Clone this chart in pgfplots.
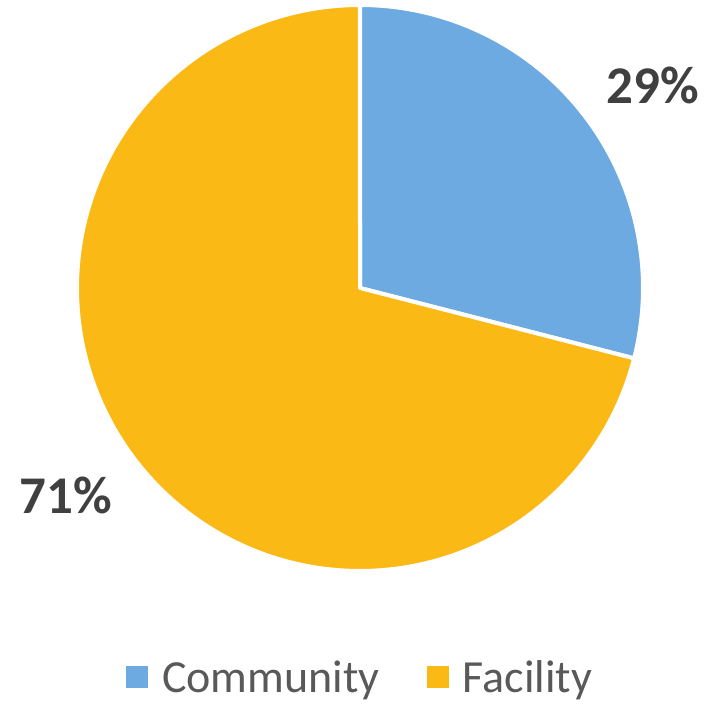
\documentclass[border=0pt]{standalone}
\usepackage{fontspec}
\setmainfont{Carlito}
\usepackage{pgfplots}
\pgfplotsset{compat=1.18}
\usepackage{pgfplotstable}
\definecolor{commblue}{RGB}{108,170,225}
\definecolor{facyellow}{RGB}{251,185,21}
\definecolor{lblgray}{RGB}{64,64,64}
\definecolor{leggray}{RGB}{89,89,89}
\pgfplotstableread{
label value
Community 29
Facility 71
}\piedata
\pgfplotstablegetelem{0}{value}\of\piedata
\pgfmathsetmacro{\vA}{\pgfplotsretval}
\pgfplotstablegetelem{1}{value}\of\piedata
\pgfmathsetmacro{\vB}{\pgfplotsretval}
\pgfmathsetmacro{\aStart}{90}
\pgfmathsetmacro{\aMid}{90-3.6*(\vA/(\vA+\vB))*100}
\pgfmathsetmacro{\aEnd}{\aMid-3.6*(\vB/(\vA+\vB))*100}
\pgfplotsset{pielegend/.style={legend image code/.code={\fill[##1, draw=none] (0bp,-11bp) rectangle (22bp,11bp);}}}
\begin{document}
\begin{tikzpicture}
\begin{axis}[
  name=ax,
  hide axis, scale only axis,
  width=715bp, height=706bp,
  xmin=0, xmax=715, ymin=0, ymax=706,
  clip=false,
  legend columns=2,
  legend style={at={(axis cs:126,29)}, anchor=west, draw=none, fill=none, inner sep=0pt,
    font=\fontsize{46bp}{50bp}\selectfont\color{leggray},
    nodes={inner sep=0pt},
    /tikz/every odd column/.append style={column sep=14bp},
    /tikz/every even column/.append style={column sep=47bp}},
  pielegend,
]
\addplot[fill=commblue, draw=white, line width=4bp, line join=round,
  domain=\aMid:\aStart, samples=120, variable=\t]
  ({360+283*cos(\t)},{418+283*sin(\t)}) -- (axis cs:360,418) -- cycle;
\addlegendentry{Community}
\addplot[fill=facyellow, draw=white, line width=4bp, line join=round,
  domain=\aEnd:\aMid, samples=240, variable=\t]
  ({360+283*cos(\t)},{418+283*sin(\t)}) -- (axis cs:360,418) -- cycle;
\addlegendentry{Facility}
\node[font=\fontsize{53bp}{56bp}\selectfont\bfseries, text=lblgray] at (axis cs:653,621) {29\%};
\node[font=\fontsize{53bp}{56bp}\selectfont\bfseries, text=lblgray] at (axis cs:66,211) {71\%};
\end{axis}
\pgfresetboundingbox
\useasboundingbox (ax.south west) rectangle (ax.north east);
\end{tikzpicture}
\end{document}
